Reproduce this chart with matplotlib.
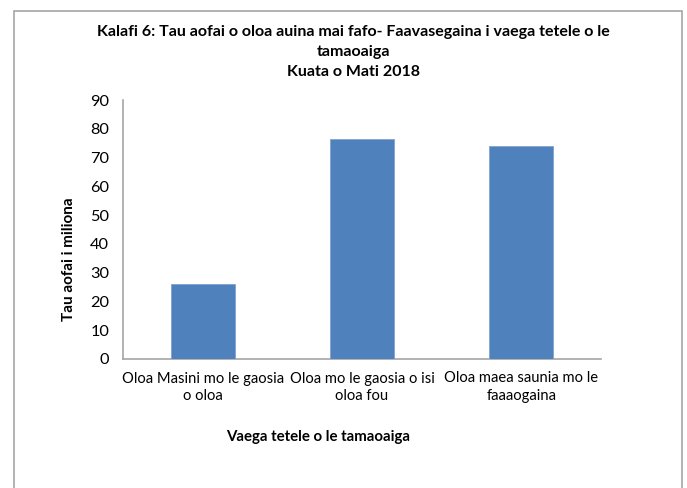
import matplotlib.pyplot as plt
import matplotlib.patches as mpatches
import numpy as np

plt.rcParams["font.family"] = ["Lato", "DejaVu Sans"]

# Data
categories = [
    "Oloa Masini mo le gaosia\no oloa",
    "Oloa mo le gaosia o isi\noloa fou",
    "Oloa maea saunia mo le\nfaaaogaina",
]
values = [26.1, 76.4, 74.0]

W, H = 687, 488
fig = plt.figure(figsize=(W / 100, H / 100), dpi=100)

# outer chart border (runs off the bottom of the image)
fig.patches.append(
    mpatches.Rectangle(
        (14 / W, -0.1), 668 / W, 1.1 - 11 / H,
        transform=fig.transFigure, fill=False, edgecolor="#a6a6a6", linewidth=1.2,
    )
)

ax = fig.add_axes([123 / W, 1 - 359 / H, 478 / W, 259 / H])
x = np.arange(len(categories))
ax.bar(x, values, width=0.4, color="#4f81bd", edgecolor="#7fa3d0", linewidth=0.6, zorder=3)

ax.set_xlim(-0.5, len(categories) - 0.5)
ax.set_ylim(0, 90)
ax.set_yticks(range(0, 91, 10))
ax.set_xticks(x, categories, fontsize=10.6, linespacing=1.3)
ax.tick_params(axis="both", length=0)
ax.tick_params(axis="x", pad=9)
ax.tick_params(axis="y", pad=10, labelsize=11.8)

for side in ["top", "right"]:
    ax.spines[side].set_visible(False)
for side in ["left", "bottom"]:
    ax.spines[side].set_color("#a6a6a6")
    ax.spines[side].set_linewidth(1.2)

fig.text(353 / W, 1 - 32 / H,
         "Kalafi 6: Tau aofai o oloa auina mai fafo- Faavasegaina i vaega tetele o le",
         ha="center", va="center", fontsize=11.5, fontweight="bold")
fig.text(353 / W, 1 - 52 / H, "tamaoaiga",
         ha="center", va="center", fontsize=11.5, fontweight="bold")
fig.text(353 / W, 1 - 72 / H, "Kuata o Mati 2018",
         ha="center", va="center", fontsize=11.5, fontweight="bold")

fig.text(69 / W, 1 - 259 / H, "Tau aofai i miliona", rotation=90,
         ha="center", va="center", fontsize=11, fontweight="bold")
fig.text(318 / W, 1 - 437 / H, "Vaega tetele o le tamaoaiga",
         ha="center", va="center", fontsize=10.8, fontweight="bold")

fig.savefig("out.png", dpi=100)
